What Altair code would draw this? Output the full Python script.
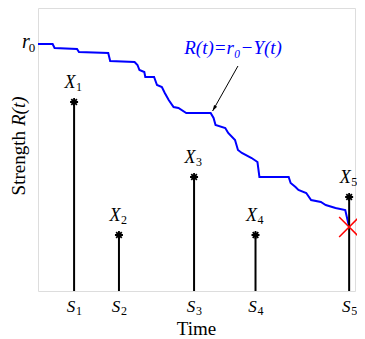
import altair as alt
import pandas as pd

# Strength path R(t) = r0 - Y(t)
LINE_T = [0, 15, 17, 40, 42, 72, 74, 99, 102, 104, 109, 110, 119, 122, 127, 130, 134, 139, 144, 152,
          177, 180, 182, 192, 195, 202, 205, 209, 219, 225, 227, 257, 259, 264, 267, 275, 280, 290, 295, 305,
          315, 319]
LINE_R = [247, 247, 243, 242, 239, 238, 230, 229, 226, 221, 219, 214, 214, 206, 204, 198, 191, 184, 183, 178,
          178, 173, 166, 163, 158, 151, 141, 138, 133, 129, 114, 114, 108, 104, 101, 98, 91, 89, 86, 83,
          81, 64]

# Shocks: arrival times S_i and magnitudes X_i
STEM_T = [37, 83, 160, 223, 319]
STEM_H = [189, 56, 114, 56, 94]
STEM_IDX = ["1", "2", "3", "4", "5"]

R0 = 247
FAIL_T = [319]
FAIL_R = [64]

ARROW_T = [205, 179]
ARROW_R = [225, 180]
ANNOT_T = [200]
ANNOT_R = [243]
ANNOT_TEXT = ["R(t)=r₀−Y(t)"]

W, H = 317, 283
T_MAX, R_MAX = 325, 283
FONT = "'Liberation Serif', 'Times New Roman', Times, serif"

xs = alt.Scale(domain=[0, T_MAX], nice=False, zero=False)
ys = alt.Scale(domain=[0, R_MAX], nice=False, zero=False)

line_df = pd.DataFrame({"t": LINE_T, "r": LINE_R, "i": range(len(LINE_T))})
stem_df = pd.DataFrame({"t": STEM_T, "h": STEM_H, "idx": STEM_IDX, "base": [0] * len(STEM_T)})
fail_df = pd.DataFrame({"t": FAIL_T, "r": FAIL_R})
arrow_df = pd.DataFrame({"t": ARROW_T, "r": ARROW_R, "i": [0, 1]})
annot_df = pd.DataFrame({"t": ANNOT_T, "r": ANNOT_R, "label": ANNOT_TEXT})
r0_df = pd.DataFrame({"t": [0], "r": [R0]})

X = lambda f="t": alt.X(f, type="quantitative", scale=xs, axis=None)
Y = lambda f: alt.Y(f, type="quantitative", scale=ys, axis=None)

line = alt.Chart(line_df).mark_line(color="#0000ff", strokeWidth=2).encode(
    x=X(), y=Y("r"), order="i:Q")

stems = alt.Chart(stem_df).mark_rule(color="black", strokeWidth=2).encode(
    x=X(), y=Y("base"), y2="h")

ASTER = "M0,-1L0,1M-1,0L1,0M-0.7,-0.7L0.7,0.7M-0.7,0.7L0.7,-0.7"
stars = alt.Chart(stem_df).mark_point(shape=ASTER, filled=False, color="black",
                                      strokeWidth=1.8, size=64, opacity=1).encode(
    x=X(), y=Y("h"))

x_letter = alt.Chart(stem_df).mark_text(text="X", font=FONT, fontStyle="italic", fontSize=18,
                                        align="center", baseline="alphabetic", dx=-4, dy=-14).encode(
    x=X(), y=Y("h"))
x_sub = alt.Chart(stem_df).mark_text(font=FONT, fontSize=12, align="center",
                                     baseline="alphabetic", dx=5, dy=-11).encode(
    x=X(), y=Y("h"), text="idx:N")

s_letter = alt.Chart(stem_df).mark_text(text="S", font=FONT, fontStyle="italic", fontSize=17,
                                        align="center", baseline="alphabetic", dx=-3).encode(
    x=X(), y=alt.value(H + 21))
s_sub = alt.Chart(stem_df).mark_text(font=FONT, fontSize=12, align="center",
                                     baseline="alphabetic", dx=5).encode(
    x=X(), y=alt.value(H + 24), text="idx:N")

r_letter = alt.Chart(r0_df).mark_text(text="r", font=FONT, fontStyle="italic", fontSize=20,
                                      align="center", baseline="alphabetic", dx=-12, dy=4).encode(
    x=X(), y=Y("r"))
r_sub = alt.Chart(r0_df).mark_text(text="0", font=FONT, fontSize=13, align="center",
                                   baseline="alphabetic", dx=-6, dy=8).encode(
    x=X(), y=Y("r"))

fail = alt.Chart(fail_df).mark_point(shape="M-1,-1L1,1M-1,1L1,-1", filled=False, color="#ff0000",
                                     strokeWidth=1.5, size=400, opacity=1).encode(
    x=X(), y=Y("r"))

arrow_line = alt.Chart(arrow_df).mark_line(color="black", strokeWidth=1).encode(
    x=X(), y=Y("r"), order="i:Q")
arrow_head = alt.Chart(arrow_df.iloc[[1]]).mark_point(
    shape="M-0.6,2L0,0L0.6,2Z", filled=True, color="black", size=36, angle=210, opacity=1).encode(
    x=X(), y=Y("r"))

annot = alt.Chart(annot_df).mark_text(font=FONT, fontStyle="italic", fontSize=19, color="#0000ff",
                                      align="center", baseline="middle").encode(
    x=X(), y=Y("r"), text="label:N")

title_y1 = alt.Chart(r0_df).mark_text(text="Strength", font=FONT, fontSize=19, angle=270,
                                      align="right", baseline="alphabetic").encode(
    x=alt.value(-13), y=alt.value(123))
title_y2 = alt.Chart(r0_df).mark_text(text="R(t)", font=FONT, fontStyle="italic", fontSize=19,
                                      angle=270, align="left", baseline="alphabetic").encode(
    x=alt.value(-13), y=alt.value(118))
title_x = alt.Chart(r0_df).mark_text(text="Time", font=FONT, fontSize=19,
                                     align="center", baseline="alphabetic").encode(
    x=alt.value(W / 2), y=alt.value(H + 44))

chart = alt.layer(
    line, stems, stars, x_letter, x_sub, s_letter, s_sub, r_letter, r_sub,
    fail, arrow_line, arrow_head, annot, title_y1, title_y2, title_x
).properties(
    width=W, height=H,
    autosize=alt.AutoSizeParams(type="none"),
    padding={"left": 30, "top": 0, "right": 2, "bottom": 48},
).configure_view(stroke="black", strokeWidth=1).configure(background="white")

chart.save("out.html", embed_options={"renderer": "svg", "actions": False})
